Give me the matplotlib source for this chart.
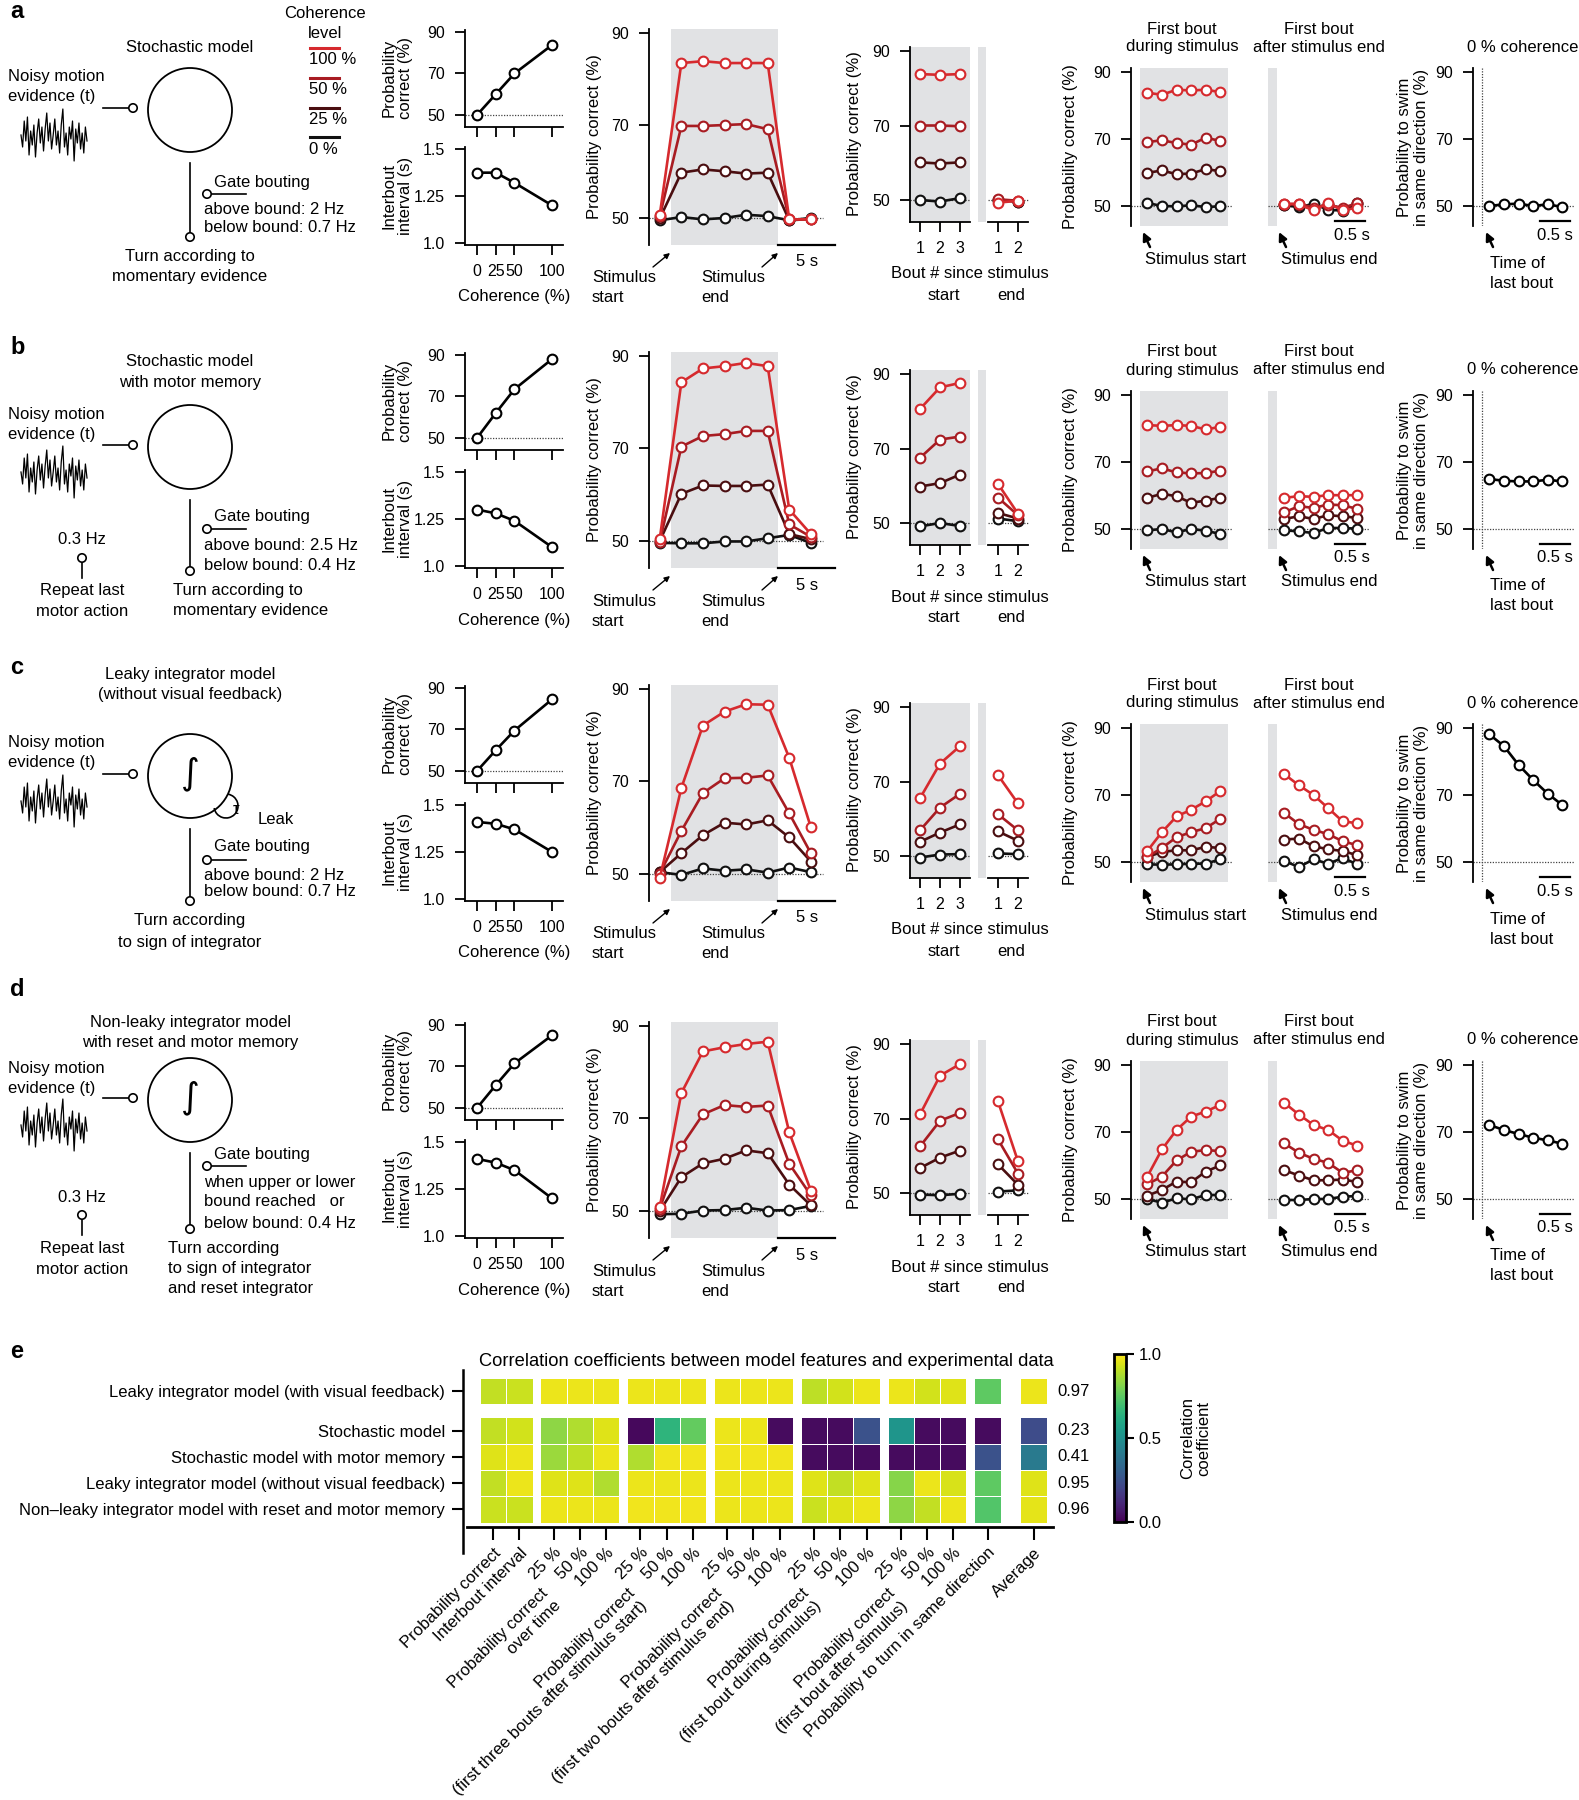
import numpy as np
import matplotlib
matplotlib.use('Agg')
import matplotlib.pyplot as plt
from matplotlib.patches import Circle, Arc

plt.rcParams['font.family'] = ['Liberation Sans', 'DejaVu Sans']
plt.rcParams['font.size'] = 12
plt.rcParams['xtick.labelsize'] = 11.5
plt.rcParams['ytick.labelsize'] = 11.5
plt.rcParams['axes.linewidth'] = 1.3
plt.rcParams['xtick.major.width'] = 1.3
plt.rcParams['ytick.major.width'] = 1.3
plt.rcParams['xtick.major.size'] = 7.5
plt.rcParams['ytick.major.size'] = 7.5
plt.rcParams['xtick.major.pad'] = 6
plt.rcParams['ytick.major.pad'] = 7

# ---------------------------------------------------------------- data
coherence = [0, 25, 50, 100]
coherence_names = ['0 %', '25 %', '50 %', '100 %']
series_colors = ['#111111', '#4a0e10', '#a81c22', '#d62a2e']

time_points = [-1, 1, 3, 5, 7, 9, 11, 13]
bouts_start = [1, 2, 3]
bouts_end = [1, 2]
first_bout_times = [0.125, 0.375, 0.625, 0.875, 1.125, 1.375]

# row a: stochastic model
a_pc = [50, 60, 70, 83.7]
a_ibi = [1.374, 1.374, 1.32, 1.20]
a_time = [[49.5, 50.2, 49.7, 50.0, 50.7, 50.4, 49.5, 50.0],
          [49.9, 59.8, 60.5, 60.1, 59.6, 59.8, 49.5, 49.8],
          [50.4, 69.9, 69.9, 70.1, 70.3, 69.2, 49.7, 49.7],
          [50.7, 83.5, 83.9, 83.5, 83.5, 83.5, 49.7, 49.7]]
a_bout_start = [[50.0, 49.6, 50.5], [60.1, 59.8, 60.1], [70.0, 70.0, 69.8], [83.8, 83.6, 83.8]]
a_bout_end = [[50.0, 49.6], [50.0, 49.6], [50.2, 49.8], [49.3, 49.8]]
a_fb_during = [[50.9, 50.0, 49.9, 50.2, 49.7, 49.9], [59.9, 60.6, 59.5, 59.7, 61.0, 60.4],
               [69.1, 69.6, 68.8, 68.3, 70.4, 69.4], [83.8, 83.2, 84.7, 84.5, 84.7, 84.0]]
a_fb_after = [[50.2, 49.7, 50.6, 48.9, 48.6, 50.8], [50.4, 50.3, 49.2, 50.6, 49.0, 50.5],
              [50.5, 50.7, 49.5, 50.4, 49.4, 50.9], [50.7, 50.5, 48.7, 50.9, 48.7, 49.5]]
a_same_dir = [50.0, 50.5, 50.7, 50.0, 50.5, 49.7]

# row b: stochastic model with motor memory
b_pc = [50, 62, 73.5, 88]
b_ibi = [1.30, 1.28, 1.24, 1.10]
b_time = [[49.6, 49.5, 49.5, 49.9, 49.9, 50.6, 51.3, 49.6],
          [50.0, 60.2, 62.0, 61.9, 61.9, 62.2, 51.5, 50.4],
          [49.8, 70.4, 72.7, 73.1, 73.8, 73.8, 53.6, 50.9],
          [50.5, 84.3, 87.3, 87.8, 88.5, 87.8, 56.8, 51.5]]
b_bout_start = [[49.1, 50.0, 49.2], [59.8, 60.7, 63.0], [67.5, 72.4, 73.2], [80.6, 86.4, 87.6]]
b_bout_end = [[51.2, 50.5], [52.7, 51.2], [56.8, 52.1], [60.5, 52.5]]
b_fb_during = [[49.6, 50.0, 49.0, 50.0, 49.5, 48.5], [59.3, 60.5, 59.8, 57.8, 58.5, 59.3],
               [67.2, 68.1, 66.9, 66.6, 66.7, 67.4], [81.0, 80.8, 81.0, 80.8, 79.7, 80.5]]
b_fb_after = [[49.6, 49.3, 48.8, 50.3, 50.3, 50.1], [53.0, 53.8, 53.0, 54.1, 53.8, 53.3],
              [55.0, 56.8, 56.3, 57.3, 57.1, 56.0], [59.3, 59.8, 59.6, 60.1, 60.1, 60.1]]
b_same_dir = [64.9, 64.4, 64.2, 64.2, 64.7, 64.2]

# row c: leaky integrator (without visual feedback)
c_pc = [50, 60, 69.5, 84.5]
c_ibi = [1.41, 1.40, 1.37, 1.25]
c_time = [[50.4, 49.8, 51.2, 50.7, 51.0, 50.3, 51.4, 50.4],
          [50.4, 54.5, 58.4, 61.1, 60.7, 61.6, 57.9, 52.7],
          [50.1, 59.3, 67.5, 70.7, 70.8, 71.3, 63.1, 54.5],
          [49.2, 68.6, 82.1, 85.1, 86.7, 86.6, 75.1, 60.1]]
c_bout_start = [[49.6, 50.4, 50.5], [53.8, 56.3, 58.5], [56.9, 63.0, 66.7], [65.5, 74.8, 79.5]]
c_bout_end = [[50.7, 50.5], [56.6, 54.1], [61.2, 56.9], [71.7, 64.1]]
c_fb_during = [[49.3, 49.2, 49.3, 49.5, 49.5, 50.8], [51.5, 53.0, 53.5, 53.5, 54.5, 54.2],
               [51.5, 54.2, 57.4, 58.9, 60.1, 62.9], [53.3, 58.9, 63.6, 65.6, 68.1, 71.2]]
c_fb_after = [[50.3, 48.5, 50.8, 49.5, 51.2, 49.3], [56.7, 57.0, 54.7, 53.8, 53.3, 52.0],
              [64.6, 61.3, 59.6, 58.3, 56.2, 55.0], [76.2, 72.9, 70.0, 66.1, 62.1, 61.6]]
c_same_dir = [88.1, 84.6, 79.0, 74.5, 70.4, 67.0]

# row d: non-leaky integrator with reset and motor memory
d_pc = [50, 61, 71.5, 85]
d_ibi = [1.41, 1.39, 1.35, 1.20]
d_time = [[49.3, 49.4, 50.1, 50.2, 50.7, 50.1, 50.2, 51.1],
          [50.0, 57.3, 60.3, 61.3, 63.1, 62.5, 55.7, 51.2],
          [50.5, 64.0, 70.9, 72.9, 72.5, 72.8, 60.2, 53.4],
          [50.9, 75.5, 84.5, 85.4, 86.1, 86.6, 67.0, 54.4]]
d_bout_start = [[49.6, 49.4, 49.8], [56.7, 59.5, 61.4], [62.5, 69.4, 71.5], [71.1, 81.5, 84.6]]
d_bout_end = [[50.4, 50.7], [57.7, 52.2], [64.4, 55.2], [74.6, 58.5]]
d_fb_during = [[50.0, 48.9, 50.2, 49.9, 51.2, 51.2], [51.0, 52.7, 55.2, 55.0, 58.2, 60.0],
               [54.4, 56.7, 61.5, 64.1, 64.6, 64.3], [56.7, 64.8, 70.6, 74.6, 76.1, 78.1]]
d_fb_after = [[49.7, 49.7, 50.0, 50.0, 50.7, 50.9], [58.6, 57.0, 55.6, 55.6, 55.8, 55.1],
              [66.6, 63.8, 62.0, 60.8, 57.8, 58.6], [78.7, 75.2, 72.1, 70.6, 67.4, 65.9]]
d_same_dir = [72.1, 70.6, 69.4, 68.3, 67.5, 66.5]

# schematic noise trace (hand-typed)
noise_trace = [0.1, -0.5, 0.8, -0.2, 1.0, -0.9, 0.3, -0.4, 0.6, -1.0, 0.2, 0.9, -0.3, 0.5,
               -0.7, 0.4, 1.2, -0.2, 0.7, -0.6, 0.1, 0.9, -0.4, 0.3, -0.8, 0.6, 1.4, -0.5,
               0.2, -0.9, 0.5, -0.1, 0.8, -1.2, 0.4, -0.3, 0.7, -0.6, 0.2, -0.8, 0.5, -0.2]

# panel e
model_names = ['Leaky integrator model (with visual feedback)', 'Stochastic model',
               'Stochastic model with motor memory', 'Leaky integrator model (without visual feedback)',
               'Non\u2013leaky integrator model with reset and motor memory']
feature_labels = ['Probability correct', 'Interbout interval',
                  '25 %', '50 %', '100 %', '25 %', '50 %', '100 %', '25 %', '50 %', '100 %',
                  '25 %', '50 %', '100 %', '25 %', '50 %', '100 %',
                  'Probability to turn in same direction', 'Average']
group_labels = ['Probability correct\nover time',
                'Probability correct\n(first three bouts after stimulus start)',
                'Probability correct\n(first two bouts after stimulus end)',
                'Probability correct\n(first bout during stimulus)',
                'Probability correct\n(first bout after stimulus)']
corr_leaky_visual = [0.91, 0.92, 0.97, 0.97, 0.97, 0.97, 0.97, 0.97, 0.97, 0.97, 0.97,
                     0.90, 0.93, 0.97, 0.97, 0.93, 0.95, 0.75, 0.97]
corr_stochastic = [0.91, 0.93, 0.83, 0.88, 0.95, 0.02, 0.65, 0.76, 0.97, 0.97, 0.03,
                   0.03, 0.03, 0.25, 0.52, 0.03, 0.03, 0.03, 0.23]
corr_stoch_motor = [0.95, 0.97, 0.85, 0.90, 0.97, 0.88, 0.98, 0.98, 0.98, 0.98, 0.98,
                    0.03, 0.03, 0.03, 0.03, 0.03, 0.03, 0.25, 0.41]
corr_leaky_novisual = [0.91, 0.97, 0.95, 0.95, 0.88, 0.97, 0.97, 0.97, 0.97, 0.97, 0.97,
                       0.95, 0.91, 0.95, 0.82, 0.97, 0.94, 0.75, 0.95]
corr_nonleaky = [0.92, 0.92, 0.97, 0.97, 0.97, 0.98, 0.98, 0.98, 0.97, 0.97, 0.97,
                 0.92, 0.95, 0.97, 0.83, 0.91, 0.97, 0.73, 0.96]
average_text = ['0.97', '0.23', '0.41', '0.95', '0.96']

# ---------------------------------------------------------------- figure
W, H = 1579, 1800
fig = plt.figure(figsize=(W / 100, H / 100), dpi=100)
GRAY = '#e1e2e4'
DOT = dict(ls=(0, (1, 1.2)), color='#444444', lw=0.9)
MK = dict(marker='o', ms=7, mfc='white', mew=1.5, lw=1.9)

ov = fig.add_axes([0, 0, 1, 1])
ov.set_xlim(0, W)
ov.set_ylim(H, 0)
ov.axis('off')
ov.set_zorder(10)


def px_ax(x0, y0, x1, y1):
    ax = fig.add_axes([x0 / W, 1 - y1 / H, (x1 - x0) / W, (y1 - y0) / H])
    ax.set_facecolor('none')
    ax.spines['top'].set_visible(False)
    ax.spines['right'].set_visible(False)
    return ax


def T(x, y, s, ha='center', va='center', **kw):
    ov.text(x, y, s, ha=ha, va=va, **kw)


def small_circle(x, y):
    ov.add_patch(Circle((x, y), 4.2, fc='white', ec='k', lw=1.2, zorder=5))


def line(xs, ys, **kw):
    kw.setdefault('color', 'k')
    kw.setdefault('lw', 1.2)
    ov.plot(xs, ys, **kw)


def cursor(x, y):
    ov.annotate('', xy=(x, y), xytext=(x + 7, y + 15),
                arrowprops=dict(arrowstyle='-|>', color='k', lw=1.8, mutation_scale=12,
                                shrinkA=0, shrinkB=0))


def noise(yc):
    xs = np.linspace(21, 87, len(noise_trace))
    ov.plot(xs, yc - np.array(noise_trace) * 20, color='k', lw=0.9)


def series(ax, x, ys):
    for y, c in zip(ys, series_colors):
        ax.plot(x, y, color=c, mec=c, **MK, zorder=3, clip_on=False)


def data_row(dy, pc, ibi, tm, bstart, bend, fbd, fba, same):
    # coherence panels
    ax = px_ax(465, 30 + dy, 563, 127 + dy)
    ax.set_xlim(-16, 114.7)
    ax.set_ylim(44.2, 90.96)
    ax.axhline(50, **DOT)
    ax.plot(coherence, pc, color='k', mec='k', **MK, clip_on=False)
    ax.set_xticks(coherence)
    ax.set_xticklabels([])
    ax.set_yticks([50, 70, 90])
    T(397, 78 + dy, 'Probability\ncorrect (%)', rotation=90, linespacing=1.1)

    ax = px_ax(465, 147 + dy, 563, 245 + dy)
    ax.set_xlim(-16, 114.7)
    ax.set_ylim(0.989, 1.5106)
    ax.plot(coherence, ibi, color='k', mec='k', **MK, clip_on=False)
    ax.set_xticks(coherence)
    ax.set_xticklabels([str(c) for c in coherence])
    ax.set_yticks([1.0, 1.25, 1.5])
    ax.set_yticklabels(['1.0', '1.25', '1.5'])
    T(397, 196 + dy, 'Interbout\ninterval (s)', rotation=90, linespacing=1.1)
    T(514, 297 + dy, 'Coherence (%)')

    # over time
    ax = px_ax(649, 29 + dy, 835, 245 + dy)
    ax.set_xlim(-2, 15.24)
    ax.set_ylim(44.16, 90.86)
    ax.axvspan(0, 10, color=GRAY, lw=0, zorder=0)
    ax.plot([-2, 14.1], [50, 50], **DOT)
    series(ax, time_points, tm)
    ax.spines['bottom'].set_visible(False)
    ax.set_xticks([])
    ax.set_yticks([50, 70, 90])
    ax.plot([10, 15.2], [44.16, 44.16], color='k', lw=1.6, clip_on=False)
    T(595, 137 + dy, 'Probability correct (%)', rotation=90)
    T(592, 278 + dy, 'Stimulus', ha='left')
    T(592, 298 + dy, 'start', ha='left')
    T(701, 278 + dy, 'Stimulus', ha='left')
    T(701, 298 + dy, 'end', ha='left')
    T(807, 262 + dy, '5 s')
    for (x0, x1) in [(653, 670), (762, 778)]:
        ov.annotate('', xy=(x1, 253 + dy), xytext=(x0, 267 + dy),
                    arrowprops=dict(arrowstyle='-|>', color='k', lw=1.0, mutation_scale=8,
                                    shrinkA=0, shrinkB=0))

    # bouts since stimulus start / end
    ax = px_ax(910, 47 + dy, 970, 222 + dy)
    ax.set_facecolor(GRAY)
    ax.set_xlim(0.5, 3.5)
    ax.set_ylim(44.1, 91.07)
    ax.plot([0.5, 3.5], [50, 50], **DOT)
    series(ax, bouts_start, bstart)
    ax.set_xticks(bouts_start)
    ax.set_yticks([50, 70, 90])
    T(855, 134 + dy, 'Probability correct (%)', rotation=90)

    ax = px_ax(978, 47 + dy, 1030, 222 + dy)
    ax.set_xlim(0, 2.6)
    ax.set_ylim(44.1, 91.07)
    ax.axvspan(0, 0.4, color=GRAY, lw=0, zorder=0)
    ax.plot([0.5, 2.5], [50, 50], **DOT)
    series(ax, bouts_end, bend)
    ax.spines['left'].set_visible(False)
    ax.spines['bottom'].set_bounds(0.5, 2.5)
    ax.set_xticks(bouts_end)
    ax.set_yticks([])
    T(970, 274 + dy, 'Bout # since stimulus')
    T(944, 295 + dy, 'start')
    T(1011, 295 + dy, 'end')

    # first bout during stimulus
    xl = (-0.154, 1.592)
    yl = (44.03, 91.19)
    ax = px_ax(1131, 68 + dy, 1233, 226 + dy)
    ax.set_xlim(*xl)
    ax.set_ylim(*yl)
    ax.axvspan(0, 1.5, color=GRAY, lw=0, zorder=0)
    ax.plot(xl, [50, 50], **DOT)
    series(ax, first_bout_times, fbd)
    ax.spines['bottom'].set_visible(False)
    ax.set_xticks([])
    ax.set_yticks([50, 70, 90])
    T(1071, 147 + dy, 'Probability correct (%)', rotation=90)
    T(1182, 29 + dy, 'First bout')
    T(1182, 47 + dy, 'during stimulus')
    cursor(1143, 232 + dy)
    T(1196, 259 + dy, 'Stimulus start')

    # first bout after stimulus end
    ax = px_ax(1268, 68 + dy, 1370, 226 + dy)
    ax.set_xlim(*xl)
    ax.set_ylim(*yl)
    ax.axvspan(xl[0], 0, color=GRAY, lw=0, zorder=0)
    ax.plot(xl, [50, 50], **DOT)
    series(ax, first_bout_times, fba)
    for s in ['left', 'bottom']:
        ax.spines[s].set_visible(False)
    ax.set_xticks([])
    ax.set_yticks([])
    ax.plot([1.0, 1.5], [45.5, 45.5], color='k', lw=1.6, clip_on=False)
    T(1352, 235 + dy, '0.5 s')
    T(1319, 29 + dy, 'First bout')
    T(1319, 47 + dy, 'after stimulus end')
    cursor(1279, 232 + dy)
    T(1329, 259 + dy, 'Stimulus end')

    # 0 % coherence
    ax = px_ax(1473, 68 + dy, 1575, 226 + dy)
    ax.set_xlim(*xl)
    ax.set_ylim(*yl)
    ax.axvline(0, **DOT)
    ax.plot(xl, [50, 50], **DOT)
    ax.plot(first_bout_times, same, color='k', mec='k', **MK, clip_on=False)
    ax.spines['bottom'].set_visible(False)
    ax.set_xticks([])
    ax.set_yticks([50, 70, 90])
    ax.plot([1.0, 1.5], [45.5, 45.5], color='k', lw=1.6, clip_on=False)
    T(1555, 235 + dy, '0.5 s')
    T(1413, 147 + dy, 'Probability to swim\nin same direction (%)', rotation=90, linespacing=1.1)
    T(1523, 47 + dy, '0 % coherence')
    cursor(1486, 232 + dy)
    T(1490, 263 + dy, 'Time of', ha='left')
    T(1490, 283 + dy, 'last bout', ha='left')


data_row(0, a_pc, a_ibi, a_time, a_bout_start, a_bout_end, a_fb_during, a_fb_after, a_same_dir)
data_row(323, b_pc, b_ibi, b_time, b_bout_start, b_bout_end, b_fb_during, b_fb_after, b_same_dir)
data_row(656, c_pc, c_ibi, c_time, c_bout_start, c_bout_end, c_fb_during, c_fb_after, c_same_dir)
data_row(993, d_pc, d_ibi, d_time, d_bout_start, d_bout_end, d_fb_during, d_fb_after, d_same_dir)

# ---------------------------------------------------------------- schematics
for lab, y in zip('abcde', [12, 347, 668, 990, 1352]):
    T(10, y, lab, ha='left', fontsize=17, fontweight='bold')

# coherence legend
T(325, 14, 'Coherence')
T(325, 33, 'level')
for yy, name, c in zip([48, 78, 108, 137], coherence_names[::-1], series_colors[::-1]):
    line([310, 339], [yy, yy], color=c, lw=2.2)
    T(309, yy + 12, name, ha='left')


def base_schematic(y_noisy, y_circle, integ=False):
    T(8, y_noisy, 'Noisy motion', ha='left')
    T(8, y_noisy + 20, 'evidence (t)', ha='left')
    noise(y_circle + 27)
    line([103, 129], [y_circle - 2, y_circle - 2])
    small_circle(133, y_circle - 2)
    ov.add_patch(Circle((190, y_circle), 42, fc='none', ec='k', lw=1.3))
    if integ:
        T(190, y_circle - 2, '\u222b', fontsize=26, family=['DejaVu Sans'])


# a
T(190, 47, 'Stochastic model')
base_schematic(76, 110)
line([190, 190], [163, 233])
small_circle(190, 237)
line([211, 246], [194, 194])
small_circle(207, 194)
T(214, 182, 'Gate bouting', ha='left')
T(204, 209, 'above bound: 2 Hz', ha='left')
T(204, 227, 'below bound: 0.7 Hz', ha='left')
T(190, 257, 'Turn according to')
T(190, 277, 'momentary evidence')

# b
T(190, 362, 'Stochastic model')
T(190, 382, 'with motor memory')
base_schematic(415, 447)
line([190, 190], [500, 567])
small_circle(190, 571)
line([211, 246], [529, 529])
small_circle(207, 529)
T(214, 517, 'Gate bouting', ha='left')
T(204, 545, 'above bound: 2.5 Hz', ha='left')
T(204, 565, 'below bound: 0.4 Hz', ha='left')
T(173, 591, 'Turn according to', ha='left')
T(173, 611, 'momentary evidence', ha='left')
T(82, 540, '0.3 Hz')
line([82, 82], [562, 578])
small_circle(82, 558)
T(82, 591, 'Repeat last')
T(82, 611, 'motor action')

# c
T(190, 674, 'Leaky integrator model')
T(190, 694, '(without visual feedback)')
base_schematic(743, 776, integ=True)
ov.add_patch(Arc((226, 806), 24, 24, theta1=-80, theta2=170, color='k', lw=1.2))
T(236, 810, '\u03c4', fontsize=12)
T(258, 820, 'Leak', ha='left')
line([190, 190], [829, 897])
small_circle(190, 901)
line([211, 246], [860, 860])
small_circle(207, 860)
T(214, 847, 'Gate bouting', ha='left')
T(204, 875, 'above bound: 2 Hz', ha='left')
T(204, 892, 'below bound: 0.7 Hz', ha='left')
T(190, 921, 'Turn according')
T(190, 942, 'to sign of integrator')

# d
T(190, 1022, 'Non-leaky integrator model')
T(190, 1042, 'with reset and motor memory')
base_schematic(1068, 1100, integ=True)
line([190, 190], [1153, 1225])
small_circle(190, 1229)
line([211, 246], [1166, 1166])
small_circle(207, 1166)
T(214, 1154, 'Gate bouting', ha='left')
T(204, 1183, 'when upper or lower', ha='left')
T(204, 1202, 'bound reached   or', ha='left')
T(204, 1223, 'below bound: 0.4 Hz', ha='left')
T(168, 1248, 'Turn according', ha='left')
T(168, 1269, 'to sign of integrator', ha='left')
T(168, 1288, 'and reset integrator', ha='left')
T(82, 1197, '0.3 Hz')
line([82, 82], [1219, 1235])
small_circle(82, 1215)
T(82, 1248, 'Repeat last')
T(82, 1269, 'motor action')

# ---------------------------------------------------------------- panel e heatmap
corr = [corr_leaky_visual, corr_stochastic, corr_stoch_motor, corr_leaky_novisual, corr_nonleaky]
group_sizes = [2, 3, 3, 3, 3, 3, 1, 1]
gaps = [0.3, 0.3, 0.3, 0.3, 0.3, 0.3, 0.75]
xedges = [0.0]
colmap = []
ci = 0
for gi, n in enumerate(group_sizes):
    for k in range(n):
        xedges.append(xedges[-1] + 1)
        colmap.append(ci)
        ci += 1
    if gi < len(gaps):
        xedges.append(xedges[-1] + gaps[gi])
        colmap.append(None)
yedges = [0, 1, 1.5, 2.5, 3.5, 4.5, 5.5]
rowmap = [0, None, 1, 2, 3, 4]
Z = np.full((len(rowmap), len(colmap)), np.nan)
for ri, r in enumerate(rowmap):
    for cj, c in enumerate(colmap):
        if r is not None and c is not None:
            Z[ri, cj] = corr[r][c]
col_centers = [(xedges[j] + xedges[j + 1]) / 2 for j, c in enumerate(colmap) if c is not None]
row_centers = [0.5, 2, 3, 4, 5]

HMF = 12
hm = px_ax(463, 1370, 1053, 1527)
mesh = hm.pcolormesh(xedges, yedges, np.ma.masked_invalid(Z), cmap='viridis', vmin=0, vmax=1,
                     edgecolors='white', linewidth=0.7)
hm.set_xlim(-0.646, 21.79)
hm.set_ylim(5.665, -0.30)
hm.spines['left'].set_visible(False)
hm.spines['bottom'].set_linewidth(2)
hm.spines['bottom'].set_bounds(-0.49, 21.79)
hm.set_yticks(row_centers)
hm.set_yticklabels(model_names, fontsize=HMF)
hm.set_xticks(col_centers)
hm.set_xticklabels(feature_labels, rotation=45, ha='right', rotation_mode='anchor', fontsize=HMF)
hm.tick_params(axis='x', length=9, width=1.5, pad=4)
hm.tick_params(axis='y', length=8, width=1.5, pad=5)
line([463, 463], [1370, 1553], lw=1.8)
for r, txt in zip(row_centers, average_text):
    hm.text(21.94, r, txt, ha='left', va='center', clip_on=False, fontsize=HMF)
group_first = [2, 5, 8, 11, 14]
for gf, gl in zip(group_first, group_labels):
    hm.text(col_centers[gf] - 0.5, 7.9, gl, rotation=45, rotation_mode='anchor', ha='right',
            va='top', multialignment='right', clip_on=False, fontsize=HMF)
T(766, 1362, 'Correlation coefficients between model features and experimental data', fontsize=13.2)

cax = px_ax(1114, 1354, 1126, 1522)
cb = fig.colorbar(mesh, cax=cax, ticks=[0, 0.5, 1])
cb.set_ticklabels(['0.0', '0.5', '1.0'])
cb.outline.set_linewidth(2)
cax.tick_params(length=6, width=1.5, pad=3, labelsize=HMF)
T(1196, 1438, 'Correlation\ncoefficient', rotation=90, linespacing=1.1, fontsize=HMF)

fig.savefig('out.png', dpi=100)
